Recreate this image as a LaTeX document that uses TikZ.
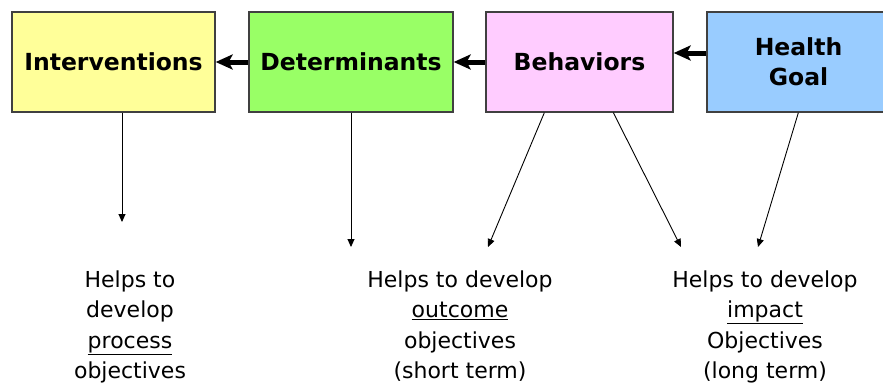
\documentclass[tikz,border=0pt]{standalone}
\usepackage{fontspec}
\setmainfont{DejaVu Sans}
\usetikzlibrary{arrows.meta}
\definecolor{yelc}{HTML}{FFFF99}
\definecolor{grnc}{HTML}{99FF66}
\definecolor{pnkc}{HTML}{FFCCFF}
\definecolor{bluc}{HTML}{99CCFF}
\definecolor{edgec}{HTML}{404040}
\begin{document}
\begin{tikzpicture}[x=1pt,y=-1pt,
 box/.style={draw=edgec, line width=1.3pt, minimum height=100pt, inner sep=0pt,
   font=\bfseries\fontsize{23.5}{30}\selectfont, align=center},
 bigarrow/.style={line width=5pt, -{Stealth[length=17pt,width=15pt,inset=4pt]}},
 thinarrow/.style={line width=0.9pt, -{Triangle[length=8pt,width=7pt]}},
 lbl/.style={font=\fontsize{22}{30.5}\selectfont, align=center, inner sep=0pt, anchor=base}]
\useasboundingbox (0,0) rectangle (883,383);
\fill[white] (0,0) rectangle (883,383);
\node[box, fill=yelc, minimum width=203pt] (int) at (113.5,62) {Interventions};
\node[box, fill=grnc, minimum width=204pt] (det) at (351,62) {Determinants};
\node[box, fill=pnkc, minimum width=187pt] (beh) at (579.5,62) {Behaviors};
\node[box, fill=bluc, minimum width=183pt] (hg) at (798.5,62) {Health\\Goal};
\draw[bigarrow] (det.west) -- (int.east);
\draw[bigarrow] (beh.west) -- (det.east);
\draw[bigarrow] ([yshift=9pt]hg.west) -- ([yshift=9pt]beh.east);
\coordinate (e1) at (122,222);
\coordinate (e2) at (351,247);
\coordinate (e3) at (488,247);
\coordinate (e4) at (681,247);
\coordinate (e5) at (758,247);
\draw[thinarrow] (int.south -| e1) -- (e1);
\draw[thinarrow] (det.south -| e2) -- (e2);
\draw[thinarrow] ([xshift=59pt]beh.south west) -- (e3);
\draw[thinarrow] ([xshift=128pt]beh.south west) -- (e4);
\draw[thinarrow] ([xshift=92pt]hg.south west) -- (e5);
\node[lbl] (t1) at (130,378.5) {Helps to\\develop\\\underline{process}\\objectives};
\node[lbl] (t2) at (460,378.5) {Helps to develop\\\underline{outcome}\\objectives\\(short term)};
\node[lbl] (t3) at (765,378.5) {Helps to develop\\\underline{impact}\\Objectives\\(long term)};
\end{tikzpicture}
\end{document}
